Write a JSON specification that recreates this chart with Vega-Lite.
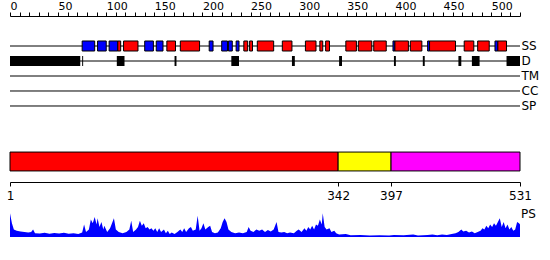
{
  "$schema": "https://vega.github.io/schema/vega-lite/v6.json",
  "padding": {"left": 6, "top": 0, "right": 0, "bottom": 0},
  "bounds": "flush",
  "spacing": 25,
  "resolve": {"scale": {"x": "independent", "y": "independent", "color": "independent"}},
  "config": {
    "view": {"stroke": null},
    "font": "DejaVu Sans",
    "axis": {"domainColor": "black", "tickColor": "black", "labelColor": "black", "grid": false, "labelFont": "DejaVu Sans"}
  },
  "datasets": {
    "tracks": [
      {"track": "SS", "start": 0, "end": 530},
      {"track": "D", "start": 0, "end": 530},
      {"track": "TM", "start": 0, "end": 530},
      {"track": "CC", "start": 0, "end": 530},
      {"track": "SP", "start": 0, "end": 530}
    ],
    "ss": [
      {"track": "SS", "type": "E", "start": 75, "end": 88},
      {"track": "SS", "type": "E", "start": 91, "end": 100},
      {"track": "SS", "type": "E", "start": 103, "end": 112},
      {"track": "SS", "type": "H", "start": 112, "end": 115},
      {"track": "SS", "type": "H", "start": 118, "end": 133},
      {"track": "SS", "type": "E", "start": 140, "end": 149},
      {"track": "SS", "type": "E", "start": 152, "end": 159},
      {"track": "SS", "type": "H", "start": 163, "end": 172},
      {"track": "SS", "type": "H", "start": 177, "end": 197},
      {"track": "SS", "type": "E", "start": 207, "end": 211},
      {"track": "SS", "type": "E", "start": 220, "end": 226},
      {"track": "SS", "type": "E", "start": 227, "end": 231},
      {"track": "SS", "type": "E", "start": 235, "end": 238},
      {"track": "SS", "type": "H", "start": 243, "end": 247},
      {"track": "SS", "type": "H", "start": 249, "end": 252},
      {"track": "SS", "type": "H", "start": 257, "end": 274},
      {"track": "SS", "type": "H", "start": 283, "end": 293},
      {"track": "SS", "type": "H", "start": 307, "end": 318},
      {"track": "SS", "type": "H", "start": 322, "end": 325},
      {"track": "SS", "type": "H", "start": 328, "end": 332},
      {"track": "SS", "type": "H", "start": 349, "end": 360},
      {"track": "SS", "type": "H", "start": 362, "end": 376},
      {"track": "SS", "type": "H", "start": 378, "end": 391},
      {"track": "SS", "type": "E", "start": 398, "end": 400},
      {"track": "SS", "type": "H", "start": 400, "end": 414},
      {"track": "SS", "type": "H", "start": 416, "end": 428},
      {"track": "SS", "type": "E", "start": 434, "end": 436},
      {"track": "SS", "type": "H", "start": 436, "end": 463},
      {"track": "SS", "type": "H", "start": 472, "end": 482},
      {"track": "SS", "type": "H", "start": 486, "end": 498},
      {"track": "SS", "type": "E", "start": 504, "end": 507},
      {"track": "SS", "type": "H", "start": 507, "end": 516}
    ],
    "dis": [
      {"track": "D", "start": 0, "end": 73},
      {"track": "D", "start": 75, "end": 76},
      {"track": "D", "start": 111, "end": 119},
      {"track": "D", "start": 171, "end": 173},
      {"track": "D", "start": 230, "end": 238},
      {"track": "D", "start": 293, "end": 296},
      {"track": "D", "start": 342, "end": 345},
      {"track": "D", "start": 399, "end": 401},
      {"track": "D", "start": 429, "end": 431},
      {"track": "D", "start": 466, "end": 469},
      {"track": "D", "start": 480, "end": 488},
      {"track": "D", "start": 516, "end": 530}
    ],
    "domains": [
      {"domain": "d1", "start": 1, "end": 342},
      {"domain": "d2", "start": 342, "end": 397},
      {"domain": "d3", "start": 397, "end": 531}
    ],
    "ps": [
      {"pos": 1, "v": 0.95}, {"pos": 3, "v": 0.55}, {"pos": 5, "v": 0.3}, {"pos": 8, "v": 0.25},
      {"pos": 12, "v": 0.22}, {"pos": 16, "v": 0.2}, {"pos": 20, "v": 0.18}, {"pos": 23, "v": 0.2},
      {"pos": 25, "v": 0.3}, {"pos": 27, "v": 0.15}, {"pos": 32, "v": 0.14}, {"pos": 37, "v": 0.17},
      {"pos": 42, "v": 0.13}, {"pos": 47, "v": 0.16}, {"pos": 52, "v": 0.14}, {"pos": 57, "v": 0.17},
      {"pos": 62, "v": 0.13}, {"pos": 67, "v": 0.15}, {"pos": 72, "v": 0.12}, {"pos": 76, "v": 0.18},
      {"pos": 78, "v": 0.5}, {"pos": 80, "v": 0.2}, {"pos": 83, "v": 0.3}, {"pos": 85, "v": 0.7},
      {"pos": 87, "v": 0.55}, {"pos": 89, "v": 0.8}, {"pos": 91, "v": 0.5}, {"pos": 92, "v": 0.75},
      {"pos": 94, "v": 0.4}, {"pos": 96, "v": 0.6}, {"pos": 98, "v": 0.3}, {"pos": 99, "v": 0.45},
      {"pos": 102, "v": 0.2}, {"pos": 105, "v": 0.35}, {"pos": 107, "v": 0.55}, {"pos": 109, "v": 0.75},
      {"pos": 111, "v": 0.3}, {"pos": 114, "v": 0.2}, {"pos": 118, "v": 0.15}, {"pos": 122, "v": 0.2},
      {"pos": 125, "v": 0.3}, {"pos": 127, "v": 0.65}, {"pos": 129, "v": 0.2}, {"pos": 132, "v": 0.3},
      {"pos": 134, "v": 0.4}, {"pos": 136, "v": 0.65}, {"pos": 138, "v": 0.45}, {"pos": 140, "v": 0.55},
      {"pos": 142, "v": 0.35}, {"pos": 144, "v": 0.4}, {"pos": 146, "v": 0.3}, {"pos": 148, "v": 0.35},
      {"pos": 150, "v": 0.25}, {"pos": 152, "v": 0.35}, {"pos": 154, "v": 0.2}, {"pos": 156, "v": 0.35},
      {"pos": 158, "v": 0.2}, {"pos": 161, "v": 0.3}, {"pos": 163, "v": 0.15}, {"pos": 165, "v": 0.25},
      {"pos": 167, "v": 0.12}, {"pos": 169, "v": 0.18}, {"pos": 172, "v": 0.12}, {"pos": 175, "v": 0.2},
      {"pos": 178, "v": 0.3}, {"pos": 180, "v": 0.2}, {"pos": 182, "v": 0.35}, {"pos": 184, "v": 0.2},
      {"pos": 187, "v": 0.35}, {"pos": 189, "v": 0.4}, {"pos": 191, "v": 0.25}, {"pos": 194, "v": 0.3},
      {"pos": 196, "v": 0.85}, {"pos": 198, "v": 0.25}, {"pos": 200, "v": 0.35}, {"pos": 202, "v": 0.55},
      {"pos": 204, "v": 0.3}, {"pos": 207, "v": 0.4}, {"pos": 209, "v": 0.45}, {"pos": 211, "v": 0.2},
      {"pos": 214, "v": 0.15}, {"pos": 217, "v": 0.18}, {"pos": 220, "v": 0.35}, {"pos": 222, "v": 0.6},
      {"pos": 224, "v": 0.75}, {"pos": 226, "v": 0.6}, {"pos": 228, "v": 0.3}, {"pos": 231, "v": 0.2},
      {"pos": 235, "v": 0.15}, {"pos": 239, "v": 0.18}, {"pos": 243, "v": 0.15}, {"pos": 247, "v": 0.2},
      {"pos": 249, "v": 0.4}, {"pos": 251, "v": 0.25}, {"pos": 254, "v": 0.2}, {"pos": 257, "v": 0.3},
      {"pos": 260, "v": 0.25}, {"pos": 263, "v": 0.3}, {"pos": 266, "v": 0.2}, {"pos": 269, "v": 0.28},
      {"pos": 272, "v": 0.22}, {"pos": 275, "v": 0.3}, {"pos": 278, "v": 0.6}, {"pos": 280, "v": 0.2},
      {"pos": 283, "v": 0.18}, {"pos": 286, "v": 0.2}, {"pos": 289, "v": 0.15}, {"pos": 292, "v": 0.18},
      {"pos": 296, "v": 0.15}, {"pos": 299, "v": 0.25}, {"pos": 301, "v": 0.3}, {"pos": 304, "v": 0.2},
      {"pos": 307, "v": 0.35}, {"pos": 309, "v": 0.25}, {"pos": 311, "v": 0.4}, {"pos": 313, "v": 0.3},
      {"pos": 315, "v": 0.45}, {"pos": 317, "v": 0.3}, {"pos": 319, "v": 0.5}, {"pos": 321, "v": 0.45},
      {"pos": 323, "v": 0.7}, {"pos": 325, "v": 0.5}, {"pos": 326, "v": 0.95}, {"pos": 328, "v": 0.4},
      {"pos": 330, "v": 0.3}, {"pos": 333, "v": 0.35}, {"pos": 335, "v": 0.2}, {"pos": 338, "v": 0.25},
      {"pos": 340, "v": 0.15}, {"pos": 343, "v": 0.1}, {"pos": 350, "v": 0.12}, {"pos": 355, "v": 0.07},
      {"pos": 365, "v": 0.08}, {"pos": 375, "v": 0.06}, {"pos": 385, "v": 0.07}, {"pos": 395, "v": 0.06},
      {"pos": 400, "v": 0.08}, {"pos": 410, "v": 0.07}, {"pos": 420, "v": 0.1}, {"pos": 425, "v": 0.06},
      {"pos": 435, "v": 0.08}, {"pos": 440, "v": 0.1}, {"pos": 445, "v": 0.07}, {"pos": 450, "v": 0.1},
      {"pos": 455, "v": 0.08}, {"pos": 460, "v": 0.12}, {"pos": 464, "v": 0.15}, {"pos": 467, "v": 0.2},
      {"pos": 470, "v": 0.3}, {"pos": 472, "v": 0.22}, {"pos": 475, "v": 0.25}, {"pos": 478, "v": 0.18},
      {"pos": 481, "v": 0.22}, {"pos": 484, "v": 0.15}, {"pos": 487, "v": 0.2}, {"pos": 490, "v": 0.25},
      {"pos": 492, "v": 0.35}, {"pos": 494, "v": 0.3}, {"pos": 496, "v": 0.45}, {"pos": 498, "v": 0.35},
      {"pos": 500, "v": 0.5}, {"pos": 502, "v": 0.4}, {"pos": 504, "v": 0.55}, {"pos": 506, "v": 0.45},
      {"pos": 508, "v": 0.6}, {"pos": 510, "v": 0.75}, {"pos": 512, "v": 0.4}, {"pos": 514, "v": 0.6},
      {"pos": 516, "v": 0.35}, {"pos": 518, "v": 0.5}, {"pos": 520, "v": 0.3}, {"pos": 522, "v": 0.4},
      {"pos": 524, "v": 0.25}, {"pos": 526, "v": 0.3}, {"pos": 528, "v": 0.6}, {"pos": 530, "v": 0.55},
      {"pos": 531, "v": 0.5}
    ]
  },
  "vconcat": [
    {
      "width": 510,
      "height": 100,
      "encoding": {
        "y": {
          "field": "track", "type": "nominal",
          "scale": {"type": "band", "domain": ["SS", "D", "TM", "CC", "SP"], "paddingInner": 0.3333, "paddingOuter": 1},
          "axis": {"orient": "right", "title": null, "domain": false, "ticks": false, "labelPadding": 1, "labelFontSize": 12}
        },
        "x": {
          "field": "start", "type": "quantitative",
          "scale": {"domain": [0, 530], "nice": false},
          "axis": {
            "orient": "top", "title": null, "offset": 10,
            "tickCount": 53,
            "labelExpr": "datum.value % 50 === 0 ? datum.label : ''",
            "labelAlign": "left", "tickSize": 4, "labelPadding": 1, "labelFontSize": 11,
            "labelFlush": false, "labelOverlap": false, "labelBound": false
          }
        },
        "x2": {"field": "end"}
      },
      "layer": [
        {
          "data": {"name": "tracks"},
          "mark": {"type": "rule", "color": "black", "strokeWidth": 1}
        },
        {
          "data": {"name": "dis"},
          "mark": {"type": "bar", "color": "black"}
        },
        {
          "data": {"name": "ss"},
          "mark": {"type": "bar", "stroke": "black", "strokeWidth": 1},
          "encoding": {
            "color": {"field": "type", "type": "nominal", "scale": {"domain": ["H", "E"], "range": ["#ff0000", "#0000ff"]}, "legend": null}
          }
        }
      ]
    },
    {
      "width": 510,
      "height": 21,
      "data": {"name": "domains"},
      "mark": {"type": "bar", "stroke": "black", "strokeWidth": 1},
      "encoding": {
        "x": {
          "field": "start", "type": "quantitative",
          "scale": {"domain": [1, 531], "nice": false},
          "axis": {"orient": "bottom", "values": [1, 342, 397, 531], "offset": 10, "tickSize": 4, "labelPadding": 4, "labelFontSize": 12, "title": null, "labelFlush": false, "labelOverlap": false, "format": "d"}
        },
        "x2": {"field": "end"},
        "color": {"field": "domain", "type": "nominal", "scale": {"domain": ["d1", "d2", "d3"], "range": ["#ff0000", "#ffff00", "#ff00ff"]}, "legend": null}
      }
    },
    {
      "width": 510,
      "height": 40,
      "layer": [
        {
          "data": {"name": "ps"},
          "mark": {"type": "area", "color": "#0000ff", "interpolate": "linear"},
          "encoding": {
            "x": {"field": "pos", "type": "quantitative", "scale": {"domain": [1, 531], "nice": false}, "axis": null},
            "y": {"field": "v", "type": "quantitative", "scale": {"domain": [0, 1.6], "nice": false}, "axis": null}
          }
        },
        {
          "data": {"values": [{"label": "PS"}]},
          "mark": {"type": "text", "align": "left", "baseline": "middle", "dx": 1, "fontSize": 12},
          "encoding": {
            "x": {"datum": 531},
            "y": {"datum": 0.92},
            "text": {"field": "label"}
          }
        }
      ]
    }
  ]
}
